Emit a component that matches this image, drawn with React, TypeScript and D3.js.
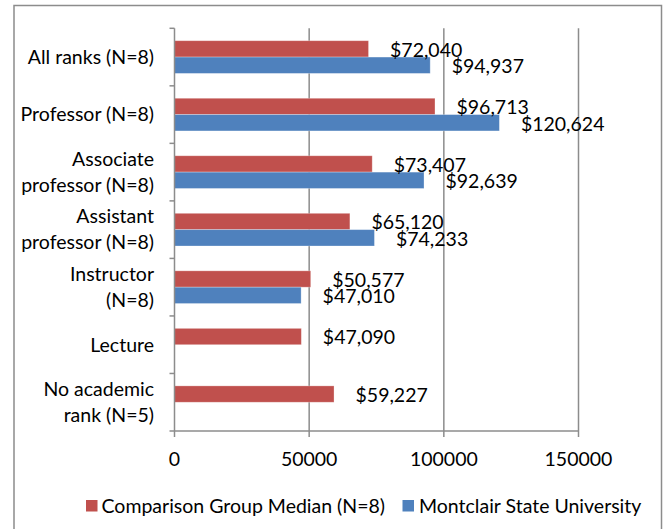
import React from 'react';
import * as d3 from 'd3';

const categories = [
  'All ranks (N=8)',
  'Professor (N=8)',
  'Associate professor (N=8)',
  'Assistant professor (N=8)',
  'Instructor (N=8)',
  'Lecture',
  'No academic rank (N=5)',
];
const categoryLines = [
  ['All ranks (N=8)'],
  ['Professor (N=8)'],
  ['Associate', 'professor (N=8)'],
  ['Assistant', 'professor (N=8)'],
  ['Instructor', '(N=8)'],
  ['Lecture'],
  ['No academic', 'rank (N=5)'],
];
const comparisonMedian = [72040, 96713, 73407, 65120, 50577, 47090, 59227];
const montclair: (number | null)[] = [94937, 120624, 92639, 74233, 47010, null, null];
const seriesNames = ['Comparison Group Median (N=8)', 'Montclair State University'];
const xTicks = [0, 50000, 100000, 150000];

const colors = ['#C0504D', '#4F81BD'];
const gridColor = '#8c8c8c';
const font = 'Lato, "Open Sans", sans-serif';
const fontSize = 19.5;

const App = () => {
  const width = 669;
  const height = 529;
  const left = 174.5;
  const right = 578.5;
  const top = 28.3;
  const bottom = 431;

  const x = d3.scaleLinear().domain([0, 150000]).range([left, right]);
  const y = d3.scaleBand<string>().domain(categories).range([top, bottom]).padding(0);
  const inner = d3
    .scaleBand<number>()
    .domain([0, 1])
    .range([0, y.bandwidth()])
    .paddingInner(0)
    .paddingOuter(0.76);

  const series = [comparisonMedian, montclair];
  const fmt = d3.format('$,');
  const boundaries = categories.map((c) => y(c)!).concat([bottom]);

  return (
    <svg
      width={width}
      height={height}
      style={{ position: 'absolute', left: 0, top: 0, background: '#fff' }}
      fontFamily={font}
      fontSize={fontSize}
    >
      <rect x={14} y={5.5} width={647.5} height={600} fill="#fff" stroke={gridColor} strokeWidth={1.5} />

      {/* gridlines */}
      {xTicks.slice(1).map((t) => (
        <line key={t} x1={x(t)} x2={x(t)} y1={top} y2={bottom} stroke={gridColor} strokeWidth={1.5} />
      ))}

      {/* bars */}
      {series.map((vals, si) =>
        vals.map((v, i) =>
          v == null ? null : (
            <rect
              key={`${si}-${i}`}
              x={x(0)}
              y={y(categories[i])! + inner(si)!}
              width={x(v) - x(0)}
              height={inner.bandwidth()}
              fill={colors[si]}
              stroke="#ffffff"
              strokeOpacity={0.35}
              strokeWidth={0.8}
            />
          )
        )
      )}

      {/* axes */}
      <line x1={left} x2={left} y1={top} y2={bottom} stroke={gridColor} strokeWidth={1.5} />
      {boundaries.map((b, i) => (
        <line key={i} x1={left - 5} x2={left} y1={b} y2={b} stroke={gridColor} strokeWidth={1.5} />
      ))}
      <line x1={left} x2={right} y1={bottom} y2={bottom} stroke={gridColor} strokeWidth={1.5} />
      {xTicks.map((t) => (
        <line key={t} x1={x(t)} x2={x(t)} y1={bottom} y2={bottom + 6} stroke={gridColor} strokeWidth={1.5} />
      ))}
      {xTicks.map((t) => (
        <text key={t} x={x(t)} y={466} textAnchor="middle" fill="#000">
          {t}
        </text>
      ))}

      {/* category labels */}
      {categoryLines.map((lines, i) => {
        const cy = y(categories[i])! + y.bandwidth() / 2;
        const lh = 26;
        return (
          <text key={i} x={154} textAnchor="end" fill="#000">
            {lines.map((l, j) => (
              <tspan key={j} x={154} y={cy + (j - (lines.length - 1) / 2) * lh} dy="0.35em">
                {l}
              </tspan>
            ))}
          </text>
        );
      })}

      {/* data labels */}
      {series.map((vals, si) =>
        vals.map((v, i) =>
          v == null ? null : (
            <text
              key={`l-${si}-${i}`}
              x={x(v) + 21.5}
              y={y(categories[i])! + inner(si)! + inner.bandwidth() / 2 + 1}
              dy="0.35em"
              fill="#000"
            >
              {fmt(v)}
            </text>
          )
        )
      )}

      {/* legend */}
      <rect x={86} y={500} width={11.5} height={11.5} fill={colors[0]} />
      <text x={101.5} y={506} dy="0.35em" fill="#000">
        {seriesNames[0]}
      </text>
      <rect x={402.5} y={500} width={11.5} height={11.5} fill={colors[1]} />
      <text x={419} y={506} dy="0.35em" fill="#000">
        {seriesNames[1]}
      </text>
    </svg>
  );
};

export default App;
